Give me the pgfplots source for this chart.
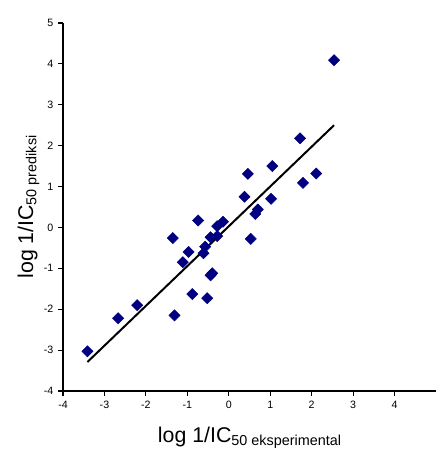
\documentclass[border=0pt]{standalone}
\usepackage{fontspec}
\setmainfont{Liberation Sans}
\usepackage{pgfplots}
\pgfplotsset{compat=1.18}
\usetikzlibrary{calc}
\definecolor{navy}{RGB}{0,0,128}
\newcommand{\sub}[1]{\raisebox{-0.3ex}{\fontsize{10.8}{12}\selectfont #1}}

\begin{document}
\begin{tikzpicture}
\begin{axis}[
    scale only axis,
    width=279.75pt, height=276pt,
    xmin=-4, xmax=5, ymin=-4, ymax=5,
    axis lines=left,
    axis line style={-, line width=0.8pt},
    xtick={-4,-3,...,4},
    ytick={-4,-3,...,5},
    tick align=outside,
    major tick length=3.75pt,
    tick style={black, line width=0.8pt},
    tick label style={font=\fontsize{8}{9}\selectfont},
    /pgf/number format/assume math mode=true,
    xlabel={\fontsize{16}{19}\selectfont log 1/IC\sub{50 eksperimental}},
    ylabel={\fontsize{16}{19}\selectfont log 1/IC\sub{50 prediksi}},
    xlabel style={at={(axis description cs:0.5,-0.1386)}, anchor=base},
    ylabel style={at={(axis description cs:-0.0804,0.5)}, anchor=base},
    clip=false,
]
% experimental vs predicted
\addplot[only marks, mark=square*, mark size=2.95pt,
    mark options={rotate=45, draw=navy, fill=navy}] coordinates {
    (-3.41,-3.03) (-2.67,-2.22) (-2.21,-1.90) (-1.35,-0.26)
    (-1.31,-2.15) (-1.11,-0.85) (-0.97,-0.60) (-0.88,-1.63)
    (-0.74,0.17) (-0.61,-0.63) (-0.57,-0.47) (-0.52,-1.73)
    (-0.44,-0.24) (-0.44,-1.17) (-0.40,-1.12) (-0.28,-0.21)
    (-0.28,0.03) (-0.14,0.14) (0.38,0.75) (0.46,1.31)
    (0.53,-0.28) (0.64,0.33) (0.70,0.44) (1.02,0.70)
    (1.05,1.50) (1.72,2.18) (1.79,1.09) (2.11,1.32)
    (2.54,4.09)
};
% regression line
\addplot[black, line width=1.5pt] coordinates {(-3.41,-3.29) (2.54,2.50)};
\end{axis}
\pgfresetboundingbox
\path[use as bounding box] ($(current axis.south west)+(-47.25pt,-43.5pt)$)
    rectangle ($(current axis.north east)+(0pt,17.25pt)$);
\end{tikzpicture}
\end{document}
